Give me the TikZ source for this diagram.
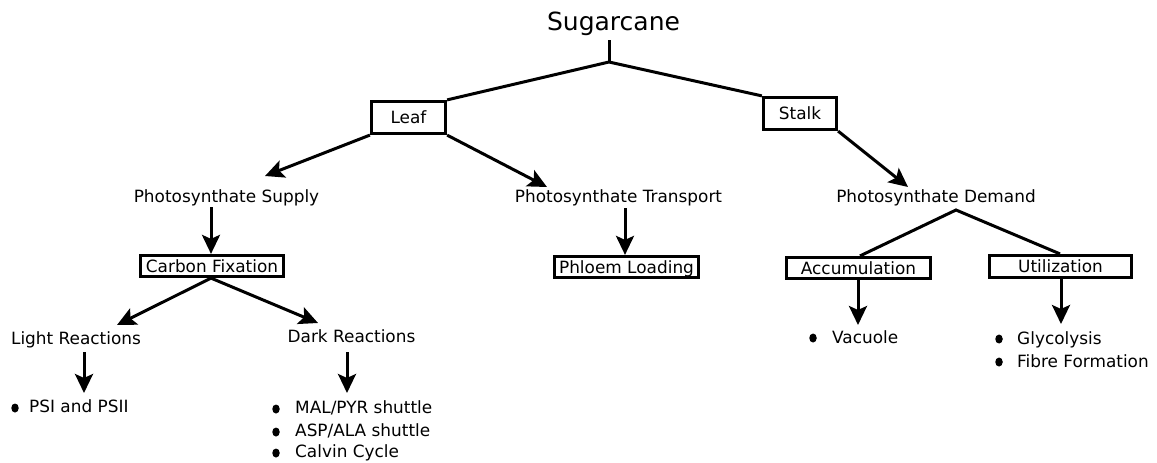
\documentclass[tikz,border=0pt]{standalone}
\usepackage{fontspec}
\setmainfont{DejaVu Sans}
\usetikzlibrary{arrows.meta,shapes.geometric}
\newcommand{\lblfont}{\fontsize{16.9}{20}\selectfont}
\begin{document}
\begin{tikzpicture}[x=1pt,y=-1pt,
  lbl/.style={anchor=base, inner sep=0pt, font=\lblfont},
  itm/.style={anchor=base west, inner sep=0pt, font=\lblfont},
  boxed/.style={draw, line width=3.2pt, inner sep=0pt, font=\lblfont,
    text height=12pt, text depth=0pt},
  link/.style={line width=3pt},
  arr/.style={link, -{Stealth[length=19pt,width=18pt,inset=4pt]}},
  bullet/.style={ellipse, fill, inner sep=0pt, minimum width=7.5pt, minimum height=9pt}]
\useasboundingbox (0,0) rectangle (1157,463);

% root
\node[anchor=base, inner sep=0pt, font=\fontsize{25}{30}\selectfont] (sug) at (613.5,30) {Sugarcane};
\coordinate (stem) at (609,40);
\coordinate (top) at (609,62);

% organs
\node[boxed, minimum width=74pt, minimum height=32pt] (leaf) at (408.5,117.5) {Leaf};
\node[boxed, minimum width=73pt, minimum height=32pt] (stalk) at (800,113.5) {Stalk};

% second level
\node[lbl] (supply) at (226.5,202) {Photosynthate Supply};
\node[lbl] (transport) at (618.5,202) {Photosynthate Transport};
\node[lbl] (demand) at (936,202) {Photosynthate Demand};
\coordinate (supplyTip) at (265,176);
\coordinate (transportTip) at (547,187);
\coordinate (demandTip) at (908,187);

% third level
\node[boxed, minimum width=143pt, minimum height=21pt] (cfix) at (212,266) {Carbon Fixation};
\node[boxed, minimum width=144pt, minimum height=21pt] (phloem) at (626.5,267) {Phloem Loading};
\node[boxed, minimum width=144pt, minimum height=21pt] (accum) at (858.5,268) {Accumulation};
\node[boxed, minimum width=142pt, minimum height=22pt] (util) at (1060.5,266.5) {Utilization};
\coordinate (supplyOut) at (211,207);
\coordinate (transportOut) at (625,208);
\coordinate (demandHub) at (956,210);

% reactions
\node[lbl] (light) at (76,344) {Light Reactions};
\node[lbl] (dark) at (351.5,342) {Dark Reactions};
\coordinate (lightTip) at (117,325);
\coordinate (darkTip) at (318,323);
\coordinate (lightOut) at (84,352);
\coordinate (darkOut) at (347,352);

% bullet lists
\node[bullet] (b1) at (15,408) {};
\node[itm] (psi) at (29,412) {PSI and PSII};
\node[bullet] (b2) at (276,409) {};
\node[itm] (mal) at (295,413) {MAL/PYR shuttle};
\node[bullet] (b3) at (276,432) {};
\node[itm] (asp) at (295,436) {ASP/ALA shuttle};
\node[bullet] (b4) at (276,453) {};
\node[itm] (calvin) at (295,457) {Calvin Cycle};
\node[bullet] (b5) at (813,338) {};
\node[itm] (vac) at (832,343) {Vacuole};
\node[bullet] (b6) at (999,339) {};
\node[itm] (gly) at (1017,344) {Glycolysis};
\node[bullet] (b7) at (999,362) {};
\node[itm] (fibre) at (1017,367) {Fibre Formation};

% connectors
\draw[link] (stem) -- (top);
\draw[link] (leaf.north east) -- (top) -- (stalk.north west);
\draw[arr] (leaf.south west) -- (supplyTip);
\draw[arr] (leaf.south east) -- (transportTip);
\draw[arr] (stalk.south east) -- (demandTip);
\draw[arr] (supplyOut) -- (cfix.north -| supplyOut);
\draw[arr] (transportOut) -- (phloem.north -| transportOut);
\draw[link] (accum.north -| 860,0) -- (demandHub) -- (util.north -| 1060,0);
\draw[arr] (cfix.south -| 211,0) -- (lightTip);
\draw[arr] (cfix.south -| 211,0) -- (darkTip);
\draw[arr] (lightOut) -- ++(0,41);
\draw[arr] (darkOut) -- ++(0,41);
\draw[arr] (accum.south -| 858,0) -- (858,325);
\draw[arr] (util.south -| 1061,0) -- (1061,324);
\end{tikzpicture}
\end{document}
